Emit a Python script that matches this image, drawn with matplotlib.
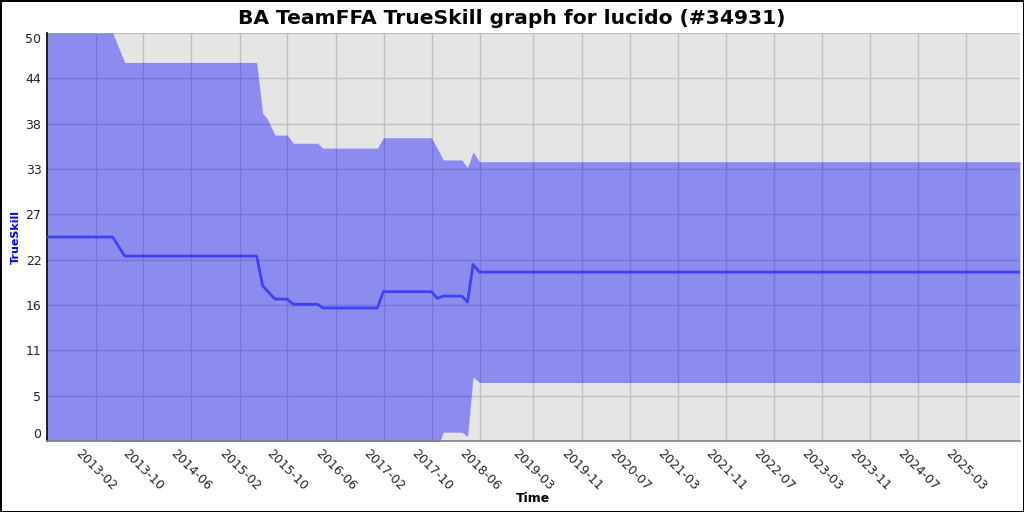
import matplotlib
matplotlib.use("Agg")
import matplotlib.pyplot as plt
import numpy as np
import pandas as pd

# rating history (one point per sampled month)
dates = ["2012-05-30", "2013-04-28", "2013-06-28", "2015-04-28", "2015-05-28",
         "2015-06-19", "2015-07-30", "2015-09-29", "2015-10-31", "2016-03-02",
         "2016-03-29", "2016-12-30", "2017-01-29", "2017-09-30", "2017-10-30",
         "2017-11-29", "2018-03-03", "2018-04-01", "2018-04-29", "2018-05-31",
         "2025-12-01"]
mu = [25.0, 25.0, 22.66, 22.66, 19.05, 18.44, 17.39, 17.39, 16.75, 16.75,
      16.3, 16.3, 18.3, 18.3, 17.47, 17.76, 17.76, 17.03, 21.63, 20.7, 20.7]
sigma = [8.333, 8.333, 7.91, 7.91, 7.04, 7.04, 6.70, 6.70, 6.58, 6.58,
         6.53, 6.53, 6.29, 6.29, 6.13, 5.56, 5.56, 5.49, 4.6, 4.51, 4.51]

tick_months = ["2013-02", "2013-10", "2014-06", "2015-02", "2015-10", "2016-06",
               "2017-02", "2017-10", "2018-06", "2019-03", "2019-11", "2020-07",
               "2021-03", "2021-11", "2022-07", "2023-03", "2023-11", "2024-07",
               "2025-03"]
y_ticks = np.linspace(0, 50, 10)

t = pd.to_datetime(dates)
mu = np.array(mu)
sigma = np.array(sigma)

fig = plt.figure(figsize=(10.24, 5.12), dpi=100, linewidth=2, edgecolor="black")
ax = fig.add_axes([47 / 1024, 1 - 441 / 512, (1020 - 47) / 1024, (441 - 33) / 512])
ax.set_facecolor("#e5e5e5")

# mu +/- 3 sigma band and the mu line
ax.fill_between(t, mu - 3 * sigma, mu + 3 * sigma, color="blue", alpha=0.39, lw=0, zorder=2)
ax.plot(t, mu, color="#4040f5", lw=2.0, zorder=3)

ax.set_xlim(pd.Timestamp(dates[0]), pd.Timestamp(dates[-1]))
ax.set_ylim(0, 50)

ax.set_xticks(pd.to_datetime([m + "-01" for m in tick_months]))
ax.set_xticklabels(tick_months, rotation=-45, ha="center", va="top", fontsize=9, color="#222222")
ax.set_yticks(y_ticks)
ax.set_yticklabels([str(int(v)) for v in y_ticks], fontsize=9, color="#222222")
labs = ax.get_yticklabels()
labs[0].set_va("bottom")
labs[-1].set_va("top")
ax.tick_params(axis="y", length=0, pad=4)
ax.tick_params(axis="x", length=0, pad=4)

ax.grid(True, color="#c0c0c0", lw=1)
ax.set_axisbelow(True)

for s in ["top", "right"]:
    ax.spines[s].set_visible(False)
ax.spines["left"].set_color("black")
ax.spines["left"].set_linewidth(1.2)
ax.spines["bottom"].set_color("#808080")
ax.spines["bottom"].set_linewidth(1.2)

ax.set_ylabel("TrueSkill", color="blue", fontsize=8, fontweight="bold")
ax.yaxis.set_label_coords(-26 / 973, 0.5)
ax.set_xlabel("Time", fontsize=9, fontweight="bold", va="center")
ax.xaxis.set_label_coords(0.5, -58 / 408)
fig.suptitle("BA TeamFFA TrueSkill graph for lucido (#34931)", fontsize=14.6,
             fontweight="bold", y=1 - 18 / 512, va="center")

fig.savefig("out.png", dpi=100)
